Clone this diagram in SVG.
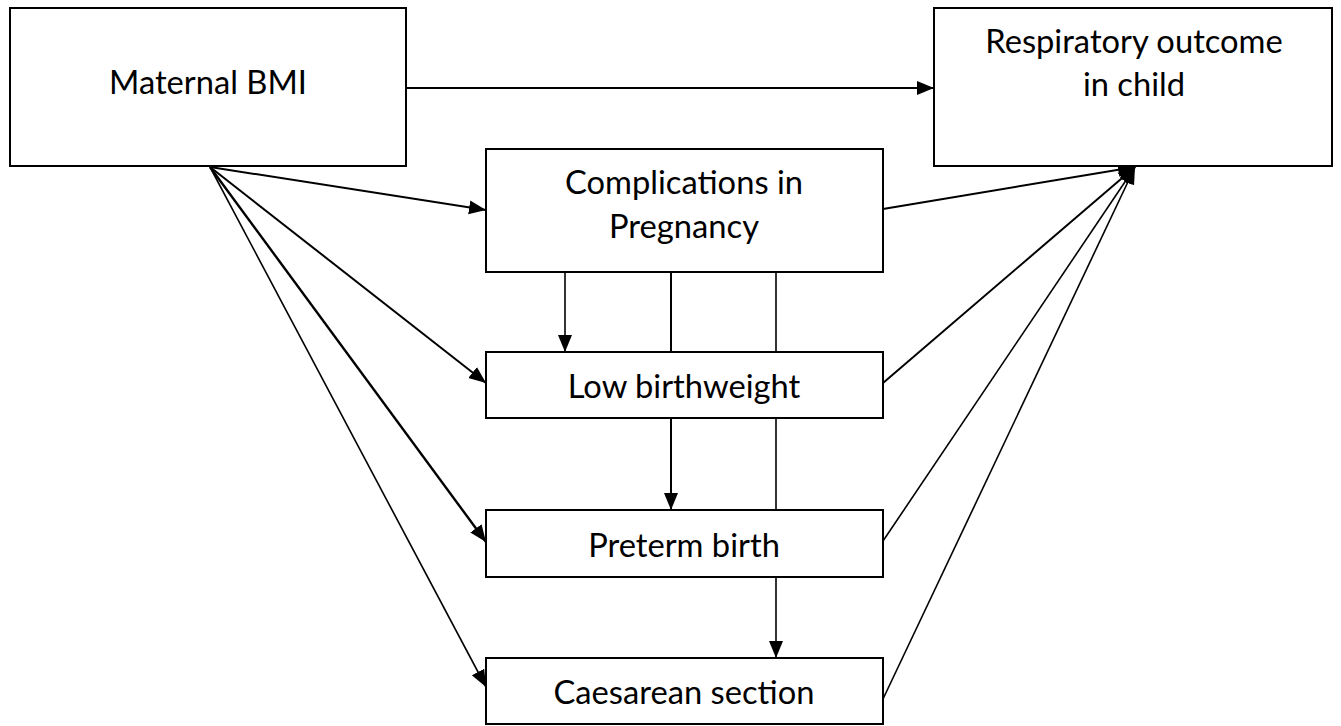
<svg xmlns="http://www.w3.org/2000/svg" width="1341" height="726" viewBox="0 0 1341 726">
<style>
.box{fill:#fff;stroke:#000;stroke-width:2}
.t{font-family:Lato,"Open Sans","Liberation Sans",sans-serif;font-size:32.7px;fill:#000;text-anchor:middle}
.c{stroke:#000;fill:none;stroke-width:1.6}
.a{marker-end:url(#ah)}
</style>
<defs>
<marker id="ah" markerUnits="userSpaceOnUse" markerWidth="19" markerHeight="16" refX="17" refY="8" orient="auto">
<path d="M0,1 L17,8 L0,15 Z" fill="#000"/>
</marker>
</defs>
<g id="connectors">
<line class="c a" x1="406" y1="88" x2="934" y2="88" style="stroke-width:2"/>
<line class="c a" x1="210" y1="167" x2="486" y2="210" style="stroke-width:2"/>
<line class="c a" x1="210" y1="167" x2="486" y2="383" style="stroke-width:2"/>
<line class="c a" x1="210" y1="167" x2="486" y2="542" style="stroke-width:2.4"/>
<line class="c a" x1="210" y1="167" x2="486" y2="687" style="stroke-width:1.6"/>
<line class="c a" x1="565" y1="272" x2="565" y2="352"/>
<line class="c" x1="671" y1="272" x2="671" y2="352" style="stroke-width:2"/>
<line class="c a" x1="671" y1="418" x2="671" y2="510" style="stroke-width:2"/>
<line class="c" x1="776" y1="272" x2="776" y2="352"/>
<line class="c" x1="776" y1="418" x2="776" y2="510"/>
<line class="c a" x1="776" y1="577" x2="776" y2="658"/>
<line class="c a" x1="883" y1="209" x2="1135" y2="167" style="stroke-width:2"/>
<line class="c a" x1="883" y1="383" x2="1135" y2="167" style="stroke-width:2"/>
<line class="c a" x1="883" y1="541" x2="1135" y2="167"/>
<line class="c a" x1="883" y1="699" x2="1135" y2="167"/>
</g>
<g id="maternal-bmi">
<rect class="box" x="10" y="8" width="396" height="158"/>
<text class="t" x="208" y="94">Maternal BMI</text>
</g>
<g id="respiratory-outcome">
<rect class="box" x="934" y="8" width="398" height="158"/>
<text class="t" x="1134" y="53">Respiratory outcome</text>
<text class="t" x="1134" y="96">in child</text>
</g>
<g id="complications">
<rect class="box" x="486" y="149" width="397" height="123"/>
<text class="t" x="684" y="194">Complications in</text>
<text class="t" x="684" y="238">Pregnancy</text>
</g>
<g id="low-birthweight">
<rect class="box" x="486" y="352" width="397" height="66"/>
<text class="t" x="684" y="398">Low birthweight</text>
</g>
<g id="preterm-birth">
<rect class="box" x="486" y="510" width="397" height="67"/>
<text class="t" x="684" y="557">Preterm birth</text>
</g>
<g id="caesarean-section">
<rect class="box" x="486" y="658" width="397" height="66"/>
<text class="t" x="684" y="704">Caesarean section</text>
</g>
</svg>
